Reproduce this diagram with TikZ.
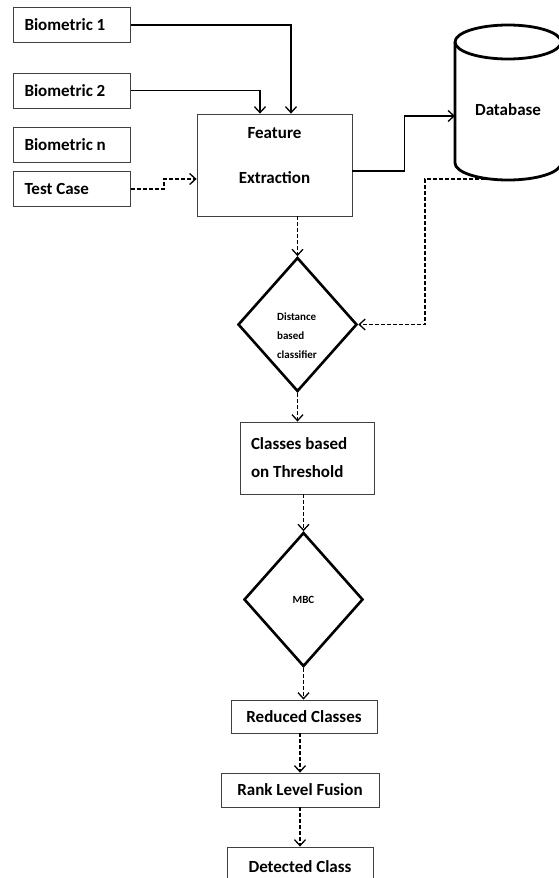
\documentclass[tikz,border=0pt]{standalone}
\usepackage{fontspec}
\setmainfont{Carlito}
\usetikzlibrary{arrows.meta,shapes.geometric}

\tikzset{
  box/.style={draw=black!75, line width=0.8pt, font=\bfseries\fontsize{17}{20}\selectfont, inner xsep=11pt, inner ysep=0pt},
  inbox/.style={box, text width=95pt, align=flush left, minimum height=35pt},
  dec/.style={diamond, draw, line width=2.6pt, inner sep=0pt, minimum width=119pt, minimum height=134pt},
  small/.style={font=\bfseries\fontsize{11}{19}\selectfont, align=flush left, inner sep=0pt},
  line/.style={line width=1.3pt, -{Straight Barb[length=6pt,width=11pt]}},
  flow/.style={line, dash pattern=on 4pt off 2pt},
  cyl/.style={line width=2.8pt}
}

\begin{document}
\begin{tikzpicture}[x=1pt,y=1pt]
    \useasboundingbox (0,0) rectangle (558,-878);

    % inputs
    \foreach \n/\t/\y in {b1/Biometric 1/25, b2/Biometric 2/90.5, bn/Biometric n/145, tc/Test Case/189}{
        \node[inbox] (\n) at (72,-\y) {\t};
    }

    \node[box, minimum width=155pt, minimum height=102pt] (fe) at (274.5,-165) {};
    \node[box, draw=none, align=center, font=\bfseries\fontsize{17}{45}\selectfont] (fetext) at (274.5,-155.5) {Feature\\Extraction};

    % database
    \draw[cyl] (455,-42) -- (455,-163) arc[start angle=180, end angle=360, x radius=53, y radius=17] -- (561,-42);
    \draw[cyl] (508,-42) ellipse[x radius=53, y radius=17];
    \node[font=\bfseries\fontsize{17}{20}\selectfont] (db) at (508,-110) {Database};
    \coordinate (dbin) at (455,-116);
    \coordinate (dbout) at (485,-179);

    \node[dec] (d1) at (297.5,-324.5) {};
    \node[small] (d1text) at (297,-336) {Distance\\based\\classifier};

    \node[box, text width=112pt, align=flush left, minimum height=72pt, font=\bfseries\fontsize{17}{28}\selectfont] (cls) at (307,-458) {Classes based\\on Threshold};

    \node[dec, font=\bfseries\fontsize{11}{13}\selectfont] (mbc) at (303.5,-599.5) {MBC};

    \node[box, minimum width=146pt, minimum height=33pt] (red) at (304,-716.5) {Reduced Classes};
    \node[box, minimum width=158pt, minimum height=34pt] (rank) at (300,-790) {Rank Level Fusion};
    \node[box, minimum width=146pt, minimum height=40pt] (det) at (300,-867) {Detected Class};

    % solid connectors
    \draw[line] (b1.east) -| ([xshift=16.5pt]fe.north);
    \draw[line] (b2.east) -| ([xshift=-14.5pt]fe.north);
    \draw[line] ([yshift=-6pt]fe.east) -- ++(52,0) |- (dbin);

    % dashed connectors
    \draw[flow] (tc.east) -- ++(33,0) |- ([yshift=-14pt]fe.west);
    \draw[flow] (dbout) -- ++(-60,0) |- (d1.east);
    \foreach \u/\v/\w in {%
        fe/d1/d1,
        d1/cls/d1,
        cls/mbc/mbc,
        mbc/red/mbc,
        red/rank/rank,
        rank/det/det%
        }{
        \draw[flow] (\u.south -| \w.north) -- (\v.north -| \w.north);
    }

\end{tikzpicture}
\end{document}
